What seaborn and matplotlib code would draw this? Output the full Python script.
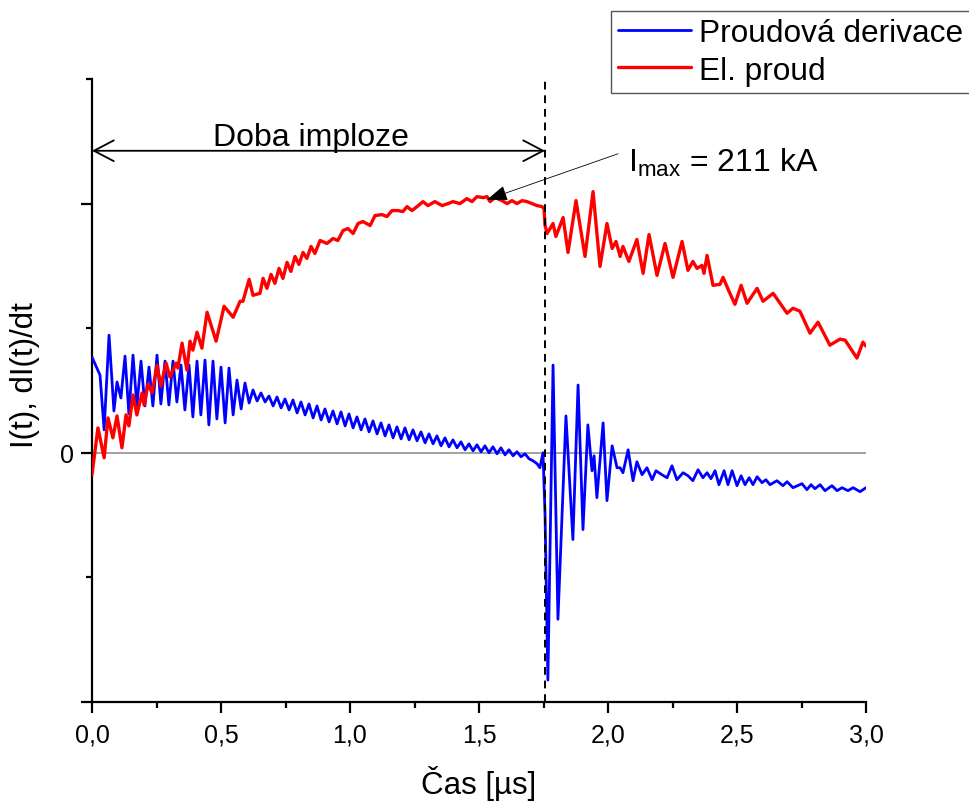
import numpy as np
import pandas as pd
import matplotlib
matplotlib.use("Agg")
import matplotlib.pyplot as plt
import seaborn as sns

# ---------------- data (time in µs, signal in arbitrary units) ----------------
blue_t_early = [0.000, 0.031, 0.047, 0.066, 0.085, 0.097, 0.112, 0.128, 0.143, 0.159,
                0.174, 0.190, 0.205, 0.221, 0.236, 0.252, 0.267, 0.283, 0.298, 0.314,
                0.329, 0.345, 0.360, 0.376, 0.391, 0.407, 0.422, 0.438, 0.453, 0.469,
                0.484, 0.500, 0.516, 0.531, 0.547, 0.562, 0.578, 0.593, 0.609, 0.624,
                0.640, 0.655, 0.671]
blue_y_early = [0.96, 0.78, 0.23, 1.18, 0.42, 0.71, 0.55, 0.97, 0.39, 0.98,
                0.47, 0.92, 0.47, 0.86, 0.47, 0.98, 0.49, 0.92, 0.48, 0.92,
                0.51, 0.88, 0.43, 0.88, 0.36, 0.92, 0.38, 0.93, 0.28, 0.92,
                0.34, 0.86, 0.30, 0.85, 0.38, 0.73, 0.44, 0.70, 0.50, 0.63,
                0.52, 0.60, 0.51]

blue_t_mid = [0.686, 0.702, 0.717, 0.733, 0.748, 0.764, 0.779, 0.795, 0.810, 0.826,
              0.841, 0.857, 0.872, 0.888, 0.903, 0.919, 0.934, 0.950, 0.965, 0.981,
              0.996, 1.012, 1.027, 1.043, 1.058, 1.074, 1.089, 1.105, 1.120, 1.136,
              1.151, 1.167, 1.182, 1.198, 1.213, 1.229, 1.244, 1.260, 1.275, 1.291,
              1.306, 1.322, 1.337, 1.353, 1.368, 1.384, 1.399, 1.415, 1.430, 1.446,
              1.461, 1.477, 1.492, 1.508, 1.523, 1.539, 1.554, 1.570, 1.585, 1.601,
              1.616, 1.632, 1.647, 1.663, 1.678, 1.694]
blue_y_mid = [0.57, 0.47, 0.56, 0.45, 0.54, 0.43, 0.53, 0.40, 0.51, 0.38,
              0.49, 0.35, 0.47, 0.33, 0.44, 0.31, 0.42, 0.29, 0.41, 0.27,
              0.39, 0.25, 0.36, 0.23, 0.34, 0.21, 0.32, 0.19, 0.30, 0.17,
              0.28, 0.15, 0.26, 0.14, 0.25, 0.13, 0.23, 0.12, 0.21, 0.10,
              0.19, 0.09, 0.17, 0.07, 0.15, 0.06, 0.13, 0.05, 0.11, 0.03,
              0.09, 0.02, 0.08, 0.01, 0.07, 0.00, 0.06, -0.01, 0.05, -0.02,
              0.03, -0.03, 0.01, -0.04, -0.01, -0.06]

blue_t_late = [1.709, 1.725, 1.736, 1.748, 1.756, 1.767, 1.787, 1.806, 1.837, 1.864,
               1.884, 1.903, 1.922, 1.938, 1.946, 1.957, 1.981, 1.996, 2.016, 2.035,
               2.047, 2.058, 2.078, 2.097, 2.112, 2.132, 2.151, 2.171, 2.186, 2.209,
               2.229, 2.248, 2.267, 2.291, 2.310, 2.329, 2.349, 2.368, 2.384, 2.399,
               2.415, 2.430, 2.450, 2.465, 2.481, 2.500, 2.516, 2.531, 2.547, 2.562,
               2.578, 2.597, 2.612, 2.628, 2.655, 2.678, 2.694, 2.717, 2.752, 2.771,
               2.787, 2.802, 2.822, 2.841, 2.868, 2.888, 2.907, 2.930, 2.950, 2.977,
               3.000]
blue_y_late = [-0.08, -0.11, -0.15, 0.00, -0.62, -2.28, 0.88, -1.67, 0.37, -0.87,
               0.68, -0.77, 0.28, -0.18, -0.03, -0.45, 0.30, -0.48, 0.07, -0.15,
               -0.15, -0.20, 0.03, -0.28, -0.09, -0.22, -0.15, -0.27, -0.18, -0.22,
               -0.25, -0.13, -0.27, -0.20, -0.23, -0.28, -0.17, -0.25, -0.20, -0.26,
               -0.18, -0.32, -0.18, -0.32, -0.18, -0.33, -0.23, -0.32, -0.25, -0.32,
               -0.24, -0.30, -0.27, -0.32, -0.28, -0.33, -0.29, -0.35, -0.31, -0.37,
               -0.32, -0.36, -0.32, -0.38, -0.33, -0.38, -0.35, -0.38, -0.35, -0.39,
               -0.35]

red_t_early = [0.000, 0.023, 0.047, 0.062, 0.081, 0.097, 0.116, 0.132, 0.143, 0.159,
               0.174, 0.194, 0.202, 0.217, 0.233, 0.252, 0.267, 0.287, 0.302, 0.326,
               0.333, 0.349, 0.368, 0.380, 0.391, 0.407, 0.426, 0.446, 0.481, 0.512,
               0.547, 0.574, 0.585, 0.609, 0.624, 0.651, 0.663, 0.678, 0.694, 0.709,
               0.725, 0.740, 0.756, 0.771, 0.787, 0.802, 0.818, 0.833, 0.849, 0.864]
red_y_early = [-0.22, 0.25, -0.05, 0.35, 0.15, 0.37, 0.05, 0.38, 0.27, 0.58,
               0.38, 0.60, 0.48, 0.69, 0.60, 0.88, 0.67, 0.90, 0.76, 0.90,
               0.85, 1.10, 0.83, 1.12, 1.03, 1.21, 1.05, 1.41, 1.12, 1.47,
               1.36, 1.52, 1.52, 1.74, 1.58, 1.60, 1.75, 1.65, 1.79, 1.70,
               1.85, 1.75, 1.91, 1.82, 1.97, 1.89, 2.01, 1.95, 2.07, 2.00]

red_t_mid = [0.884, 0.911, 0.934, 0.953, 0.973, 0.992, 1.012, 1.031, 1.050, 1.078,
             1.097, 1.124, 1.143, 1.163, 1.186, 1.205, 1.221, 1.240, 1.260, 1.283,
             1.302, 1.329, 1.357, 1.380, 1.399, 1.426, 1.453, 1.473, 1.492, 1.516,
             1.531, 1.543, 1.562, 1.589, 1.609, 1.628, 1.647, 1.667, 1.686, 1.705,
             1.725, 1.744, 1.752]
red_y_mid = [2.13, 2.10, 2.15, 2.13, 2.23, 2.25, 2.20, 2.30, 2.32, 2.28,
             2.38, 2.39, 2.37, 2.43, 2.43, 2.42, 2.47, 2.43, 2.47, 2.52,
             2.48, 2.52, 2.48, 2.50, 2.52, 2.50, 2.55, 2.52, 2.57, 2.56,
             2.57, 2.52, 2.56, 2.53, 2.50, 2.53, 2.50, 2.53, 2.52, 2.50,
             2.48, 2.47, 2.45]

red_t_late = [1.756, 1.764, 1.787, 1.798, 1.826, 1.845, 1.876, 1.911, 1.942, 1.969,
              1.996, 2.016, 2.031, 2.047, 2.058, 2.081, 2.112, 2.136, 2.159, 2.190,
              2.221, 2.252, 2.287, 2.310, 2.329, 2.345, 2.364, 2.372, 2.384, 2.407,
              2.434, 2.446, 2.469, 2.492, 2.516, 2.539, 2.578, 2.601, 2.640, 2.694,
              2.717, 2.744, 2.783, 2.814, 2.860, 2.899, 2.919, 2.965, 2.988, 3.000]
red_y_late = [2.28, 2.20, 2.30, 2.17, 2.36, 2.01, 2.53, 1.97, 2.62, 1.87,
              2.30, 2.05, 2.12, 1.97, 2.07, 1.92, 2.14, 1.80, 2.19, 1.78,
              2.10, 1.76, 2.12, 1.83, 1.92, 1.85, 1.88, 1.80, 1.98, 1.68,
              1.69, 1.76, 1.62, 1.49, 1.68, 1.50, 1.65, 1.52, 1.60, 1.40,
              1.45, 1.42, 1.20, 1.31, 1.08, 1.14, 1.13, 0.95, 1.11, 1.07]

x_tick_values = [0.0, 0.5, 1.0, 1.5, 2.0, 2.5, 3.0]
x_tick_labels = ["0,0", "0,5", "1,0", "1,5", "2,0", "2,5", "3,0"]
y_tick_values = [-2.5, 0.0, 2.5]
y_tick_labels = ["", "0", ""]
implosion_end = 1.756
imax_point = (1.531, 2.54)
series_names = ["Proudová derivace", "El. proud"]

# ---------------- assemble ----------------
blue = pd.DataFrame({"t": blue_t_early + blue_t_mid + blue_t_late,
                     "y": blue_y_early + blue_y_mid + blue_y_late})
red = pd.DataFrame({"t": red_t_early + red_t_mid + red_t_late,
                    "y": red_y_early + red_y_mid + red_y_late})

sns.set_theme(style="ticks")
plt.rcParams["font.family"] = ["Liberation Sans", "DejaVu Sans"]
plt.rcParams["mathtext.fontset"] = "custom"
plt.rcParams["mathtext.rm"] = "Liberation Sans"
for key in ["text.color", "axes.labelcolor", "xtick.color", "ytick.color",
            "axes.edgecolor"]:
    plt.rcParams[key] = "black"

fig = plt.figure(figsize=(9.7, 8.03), dpi=100)
ax = fig.add_axes([92 / 970, 100 / 803, 774 / 970, 623 / 803])

ax.axhline(0, color="#9a9a9a", lw=1.3, zorder=1)

sns.lineplot(data=blue, x="t", y="y", ax=ax, color="#0000ff", lw=2.0,
             sort=False, estimator=None, label=series_names[0], zorder=3,
             solid_joinstyle="round", solid_capstyle="round")
sns.lineplot(data=red, x="t", y="y", ax=ax, color="#ff0000", lw=2.4,
             sort=False, estimator=None, label=series_names[1], zorder=4,
             solid_joinstyle="round", solid_capstyle="round")

ax.axvline(implosion_end, color="black", lw=1.4, ls=(0, (4, 3)), zorder=5)

ax.set_xlim(0, 3.0)
ax.set_ylim(-2.5, 3.75)
ax.set_xticks(x_tick_values)
ax.set_xticklabels(x_tick_labels)
ax.set_xticks([0.25, 0.75, 1.25, 1.75, 2.25, 2.75], minor=True)
ax.set_yticks(y_tick_values)
ax.set_yticklabels(y_tick_labels)
ax.set_yticks([-1.25, 1.25, 3.75], minor=True)

for s in ["top", "right"]:
    ax.spines[s].set_visible(False)
for s in ["left", "bottom"]:
    ax.spines[s].set_linewidth(1.6)
    ax.spines[s].set_color("black")

ax.tick_params(axis="both", which="major", direction="out", length=8, width=1.6,
               colors="black", labelsize=18)
ax.tick_params(axis="both", which="minor", direction="out", length=4, width=1.6,
               colors="black")
ax.tick_params(axis="x", which="major", pad=7)
ax.tick_params(axis="y", which="major", pad=5)

ax.set_xlabel("Čas [µs]", fontsize=22.5, labelpad=13, color="black")
ax.set_ylabel("I(t), dI(t)/dt", fontsize=22.5, color="black")
ax.yaxis.set_label_coords(-0.067, 0.526)

# double arrow "Doba imploze"
ax.annotate("", xy=(0.0, 3.03), xytext=(implosion_end, 3.03),
            arrowprops=dict(arrowstyle="<->,head_length=0.42,head_width=0.22",
                            color="black", lw=1.3, shrinkA=0, shrinkB=0,
                            mutation_scale=34), zorder=6)
ax.text(0.849, 3.09, "Doba imploze", fontsize=23, ha="center", va="baseline",
        color="black")

# I_max annotation
ax.annotate("", xy=imax_point, xytext=(2.039, 3.00),
            arrowprops=dict(arrowstyle="-|>,head_length=0.8,head_width=0.3",
                            color="black", lw=0.6, shrinkA=0, shrinkB=0,
                            mutation_scale=16), zorder=6)
ax.text(2.078, 2.83, r"I$_{\mathregular{max}}$ = 211 kA", fontsize=23,
        ha="left", va="baseline", color="black")

handles, labels = ax.get_legend_handles_labels()
leg = ax.legend(handles, labels, loc="upper left",
                bbox_to_anchor=(611 / 970, 1 - 12 / 803),
                bbox_transform=fig.transFigure, fontsize=22.8, frameon=True,
                fancybox=False, edgecolor="#555555", framealpha=1,
                handlelength=2.3, handletextpad=0.25, borderpad=0.22,
                labelspacing=0.24, borderaxespad=0)
leg.get_frame().set_linewidth(1.0)
for txt in leg.get_texts():
    txt.set_color("black")

fig.savefig("out.png", dpi=100)
